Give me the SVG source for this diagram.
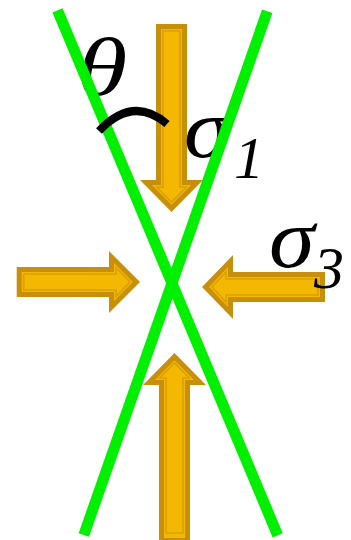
<svg xmlns="http://www.w3.org/2000/svg" width="351" height="540" viewBox="0 0 351 540">
<style>
.ao{fill:#c8900a}
.ai{fill:#f5b800}
.al{fill:#f5b800;stroke:#d9a000;stroke-width:1.6}
.g{stroke:#00f000;stroke-width:11;fill:none}
.t{font-family:"Liberation Serif","Times New Roman",serif;font-style:italic;fill:#000}
</style>
<rect width="351" height="540" fill="#fff"/>
<g id="arrow-top" transform="translate(171.5,212) rotate(90)">
<polygon class="ao" points="-188,-15.5 -32,-15.5 -32,-31.5 0,0 -32,31.5 -32,15.5 -188,15.5"/>
<polygon class="ai" points="-183,-10.5 -27,-10.5 -27,-19.5 -7.2,0 -27,19.5 -27,10.5 -183,10.5"/>
<polygon class="al" points="-181,-8.5 -25,-8.5 -25,-14.8 -10,0 -25,14.8 -25,8.5 -181,8.5"/>
</g>
<g id="arrow-bottom" transform="translate(174.5,353) rotate(-90)">
<polygon class="ao" points="-190,-15.5 -32,-15.5 -32,-31.5 0,0 -32,31.5 -32,15.5 -190,15.5"/>
<polygon class="ai" points="-185,-10.5 -27,-10.5 -27,-19.5 -7.2,0 -27,19.5 -27,10.5 -185,10.5"/>
<polygon class="al" points="-180,-8.5 -25,-8.5 -25,-14.8 -10,0 -25,14.8 -25,8.5 -180,8.5"/>
</g>
<g id="arrow-left" transform="translate(140,282)">
<polygon class="ao" points="-123.3,-15 -31,-15 -31,-31 0,0 -31,31 -31,15 -123.3,15"/>
<polygon class="ai" points="-118.3,-10 -26,-10 -26,-19 -7.2,0 -26,19 -26,10 -118.3,10"/>
<polygon class="al" points="-116.3,-8 -24,-8 -24,-14.3 -10,0 -24,14.3 -24,8 -116.3,8"/>
</g>
<g id="arrow-right" transform="translate(202,287) rotate(180)">
<polygon class="ao" points="-123,-15 -31,-15 -31,-32 0,0 -31,32 -31,15 -123,15"/>
<polygon class="ai" points="-118,-10 -26,-10 -26,-20 -7.2,0 -26,20 -26,10 -118,10"/>
<polygon class="al" points="-116,-8 -24,-8 -24,-15 -10,0 -24,15 -24,8 -116,8"/>
</g>
<g id="labels">
<text class="t" transform="translate(77,95) scale(1.25,1)" font-size="82">θ</text>
<text class="t" transform="translate(184,157) scale(1.1,1)" font-size="84">σ</text>
<text class="t" x="234" y="178" font-size="60">1</text>
<text class="t" transform="translate(269,267) scale(1.1,1)" font-size="84">σ</text>
<text class="t" x="314" y="288" font-size="60">3</text>
</g>
<g id="lines">
<line class="g" x1="57.5" y1="10.3" x2="277.7" y2="535.3"/>
<line class="g" x1="267.2" y1="11.3" x2="83.8" y2="535"/>
</g>
<path id="angle-arc" d="M99,131 Q133,95 167,124" fill="none" stroke="#000" stroke-width="8"/>
</svg>
